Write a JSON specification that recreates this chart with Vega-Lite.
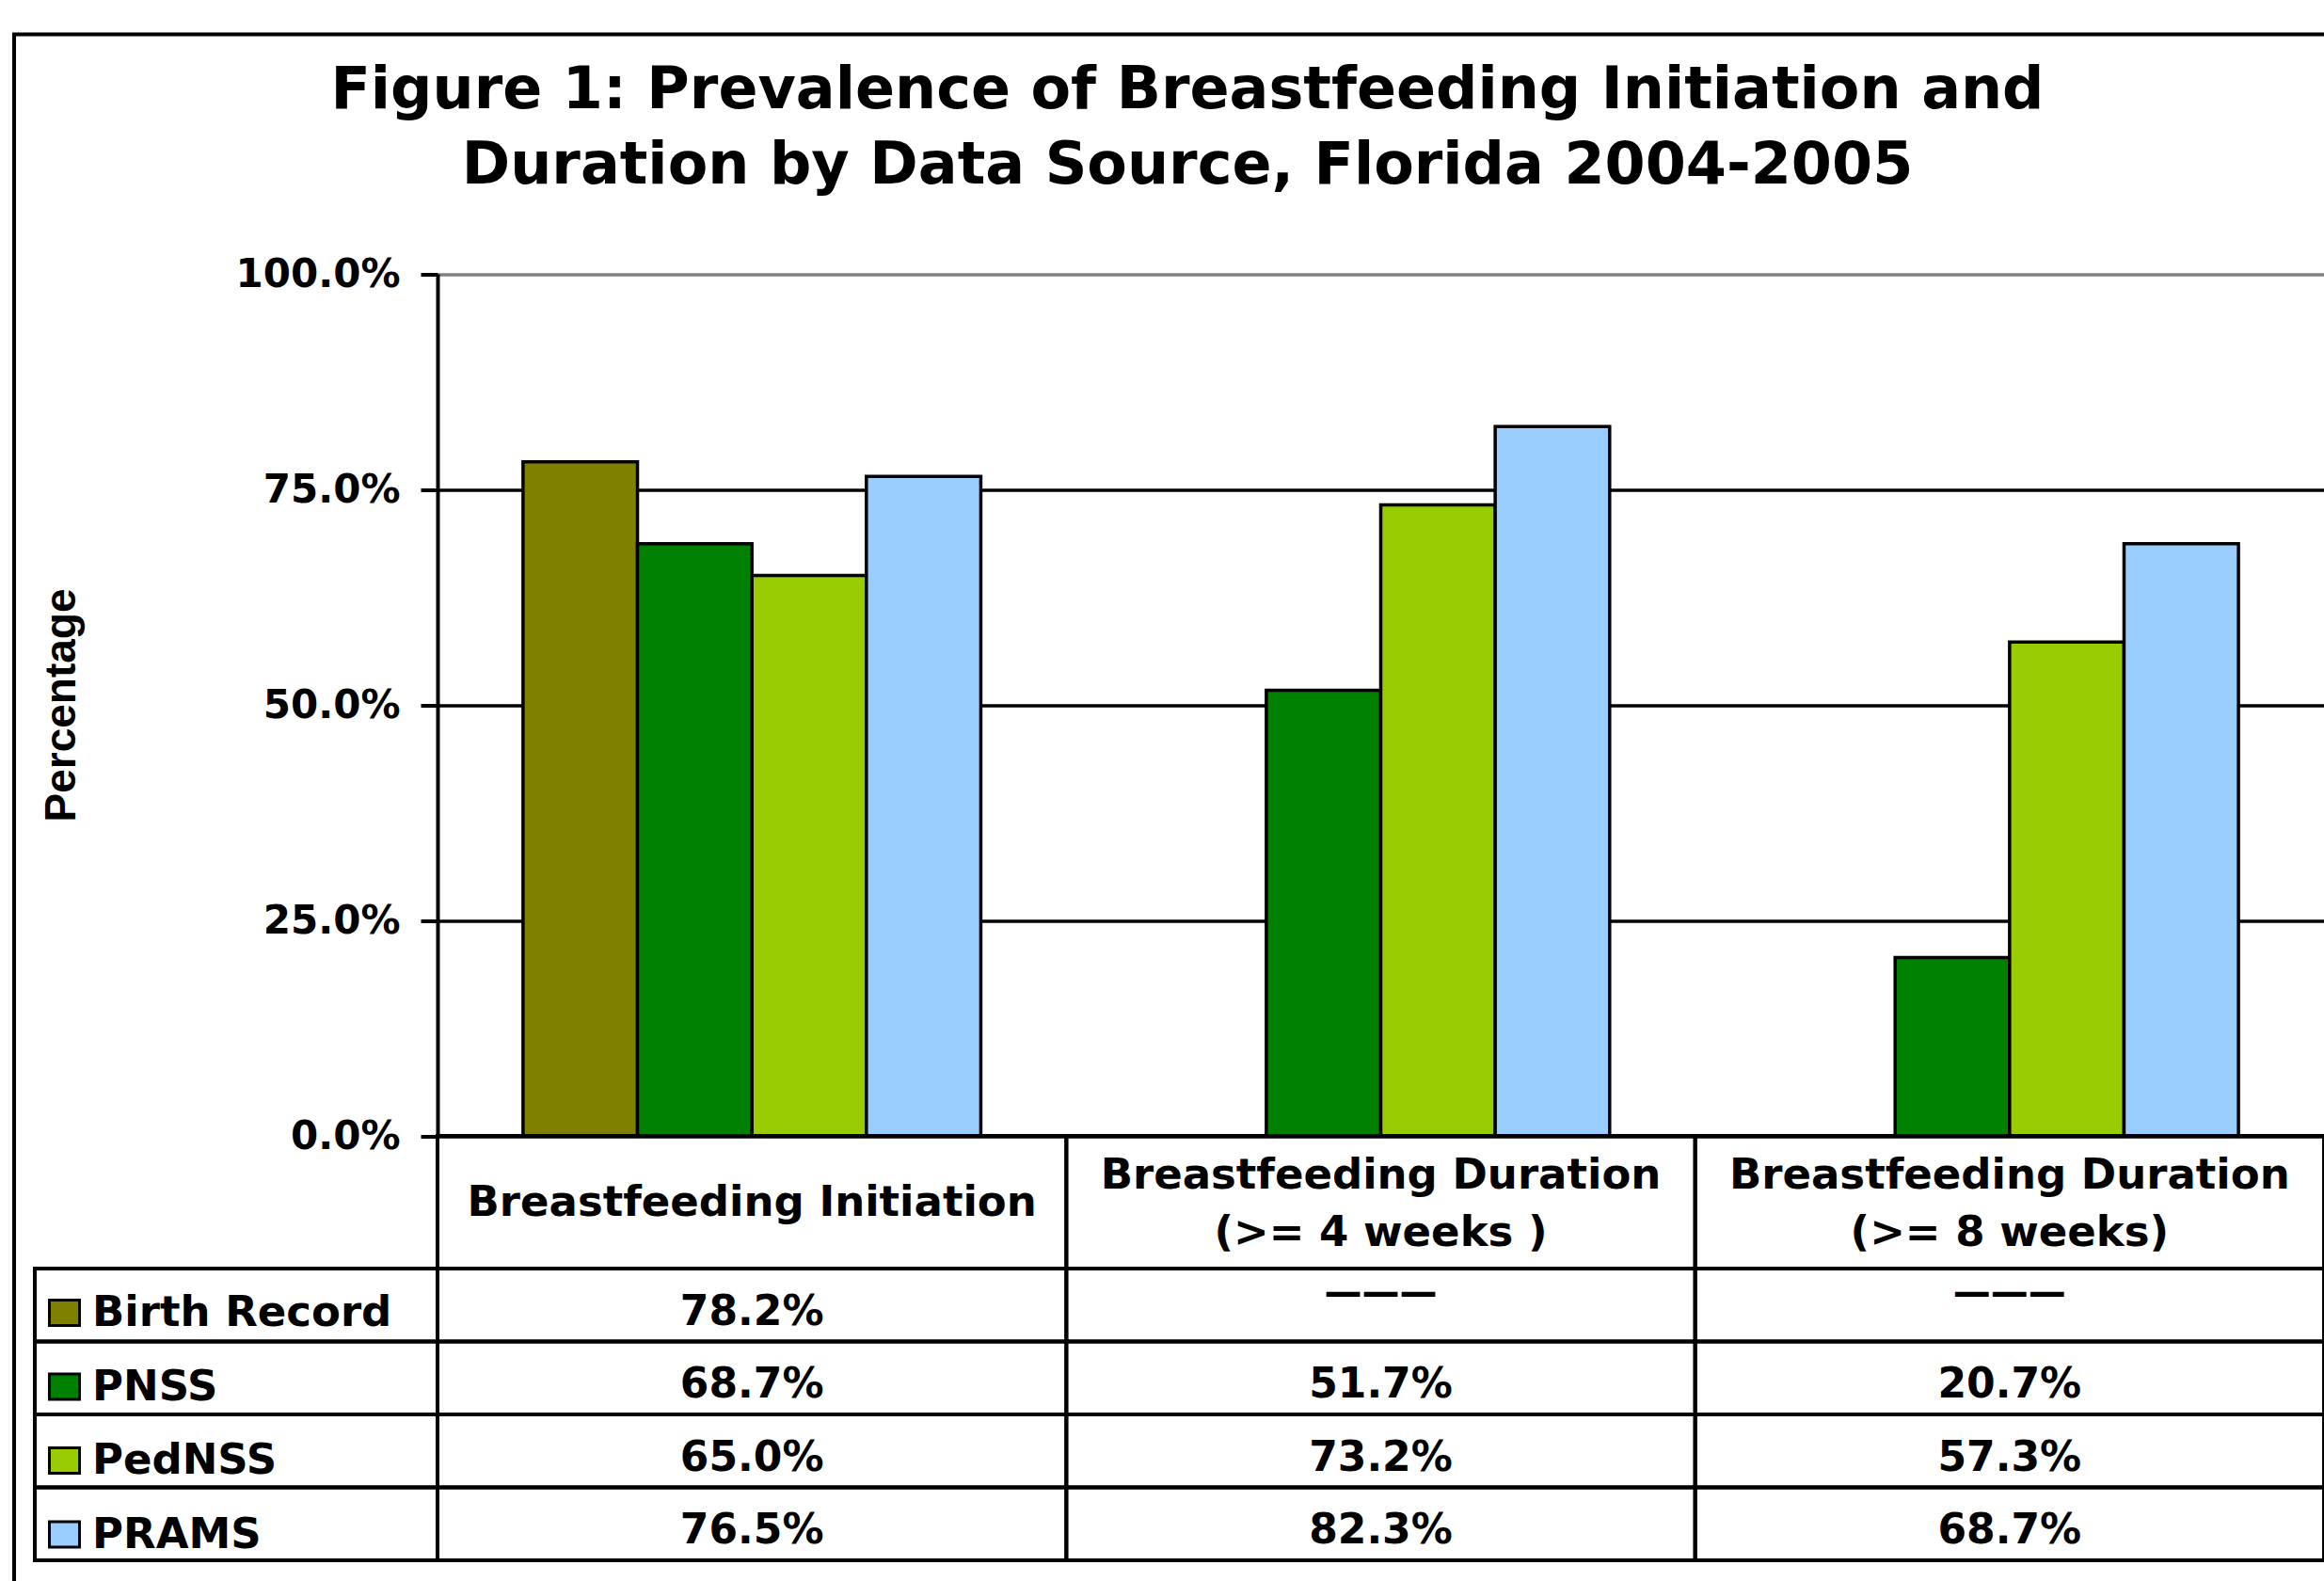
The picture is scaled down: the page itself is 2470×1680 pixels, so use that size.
{
  "$schema": "https://vega.github.io/schema/vega-lite/v6.json",
  "width": 2460,
  "height": 1650,
  "autosize": {"type": "none"},
  "padding": {"left": 15, "top": 36.5, "right": 0, "bottom": 0},
  "background": "white",
  "config": {
    "view": {"stroke": "black", "strokeWidth": 4},
    "font": "DejaVu Sans"
  },
  "title": {
    "text": ["Figure 1: Prevalence of Breastfeeding Initiation and", "Duration by Data Source, Florida 2004-2005"],
    "font": "DejaVu Sans",
    "fontSize": 62,
    "fontWeight": "bold",
    "color": "black",
    "lineHeight": 80,
    "anchor": "middle",
    "frame": "group",
    "baseline": "alphabetic",
    "dx": 17,
    "offset": -220
  },
  "datasets": {
    "main": [
      {"category": "Breastfeeding Initiation", "source": "Birth Record", "value": 0.782},
      {"category": "Breastfeeding Initiation", "source": "PNSS", "value": 0.687},
      {"category": "Breastfeeding Initiation", "source": "PedNSS", "value": 0.650},
      {"category": "Breastfeeding Initiation", "source": "PRAMS", "value": 0.765},
      {"category": "Breastfeeding Duration\n(>= 4 weeks )", "source": "Birth Record", "value": null},
      {"category": "Breastfeeding Duration\n(>= 4 weeks )", "source": "PNSS", "value": 0.517},
      {"category": "Breastfeeding Duration\n(>= 4 weeks )", "source": "PedNSS", "value": 0.732},
      {"category": "Breastfeeding Duration\n(>= 4 weeks )", "source": "PRAMS", "value": 0.823},
      {"category": "Breastfeeding Duration\n(>= 8 weeks)", "source": "Birth Record", "value": null},
      {"category": "Breastfeeding Duration\n(>= 8 weeks)", "source": "PNSS", "value": 0.207},
      {"category": "Breastfeeding Duration\n(>= 8 weeks)", "source": "PedNSS", "value": 0.573},
      {"category": "Breastfeeding Duration\n(>= 8 weeks)", "source": "PRAMS", "value": 0.687}
    ],
    "categories": [
      {"category": "Breastfeeding Initiation"},
      {"category": "Breastfeeding Duration\n(>= 4 weeks )"},
      {"category": "Breastfeeding Duration\n(>= 8 weeks)"}
    ],
    "sources": [
      {"source": "Birth Record"},
      {"source": "PNSS"},
      {"source": "PedNSS"},
      {"source": "PRAMS"}
    ]
  },
  "layer": [
    {
      "data": {"name": "main"},
      "mark": {"type": "bar", "stroke": "black", "strokeWidth": 3.5},
      "encoding": {
        "x": {
          "field": "category", "type": "nominal", "sort": null,
          "scale": {"range": [450, 2455], "paddingInner": 0.272, "paddingOuter": 0.136},
          "axis": null
        },
        "xOffset": {
          "field": "source", "type": "nominal",
          "scale": {"domain": ["Birth Record", "PNSS", "PedNSS", "PRAMS"], "paddingInner": 0, "paddingOuter": 0}
        },
        "y": {
          "field": "value", "type": "quantitative",
          "scale": {"domain": [0, 1], "range": [1170.5, 254.5], "nice": false, "zero": true},
          "axis": {
            "values": [0, 0.25, 0.5, 0.75, 1],
            "format": ".1%",
            "offset": -450,
            "domain": true, "domainColor": "black", "domainWidth": 4,
            "ticks": true, "tickSize": 18, "tickColor": "black", "tickWidth": 4,
            "labelFont": "DejaVu Sans", "labelFontWeight": "bold", "labelFontSize": 42, "labelColor": "black",
            "labelPadding": 22, "labelLimit": 400,
            "grid": true, "gridWidth": 3.5,
            "gridColor": {"condition": {"test": "datum.value === 1", "value": "#808080"}, "value": "black"},
            "title": "Percentage",
            "titleFont": "Liberation Sans", "titleFontWeight": "bold", "titleFontSize": 46, "titleColor": "black",
            "titlePadding": 176
          }
        },
        "color": {
          "field": "source", "type": "nominal",
          "scale": {"domain": ["Birth Record", "PNSS", "PedNSS", "PRAMS"], "range": ["#808000", "#008000", "#99CC00", "#99CCFF"]},
          "legend": {
            "title": null,
            "orient": "none",
            "legendX": 31,
            "legendY": 1336,
            "padding": 0,
            "rowPadding": 32.5,
            "symbolType": "M-1.185,-1L1.185,-1L1.185,1L-1.185,1Z",
            "symbolSize": 729,
            "symbolStrokeColor": "black",
            "symbolStrokeWidth": 3,
            "symbolOpacity": 1,
            "labelFont": "DejaVu Sans", "labelFontWeight": "bold", "labelFontSize": 45, "labelColor": "black",
            "labelOffset": 7,
            "labelLimit": 1000
          }
        }
      }
    },
    {
      "data": {"name": "categories"},
      "encoding": {
        "x": {
          "field": "category", "type": "nominal", "sort": null,
          "scale": {"range": [450, 2455], "paddingInner": 0, "paddingOuter": 0},
          "axis": null
        },
        "y": {
          "datum": "header", "type": "nominal",
          "scale": {"range": [1170.5, 1311.5], "paddingInner": 0, "paddingOuter": 0},
          "axis": null
        }
      },
      "layer": [
        {"mark": {"type": "rect", "filled": false, "stroke": "black", "strokeWidth": 4}},
        {
          "transform": [{"filter": "indexof(datum.category, '\\n') < 0"}],
          "mark": {"type": "text", "lineBreak": "\n", "lineHeight": 61, "font": "DejaVu Sans", "fontWeight": "bold", "fontSize": 45, "color": "black", "align": "center", "baseline": "middle"},
          "encoding": {"text": {"field": "category", "type": "nominal"}}
        },
        {
          "transform": [{"filter": "indexof(datum.category, '\\n') >= 0"}],
          "mark": {"type": "text", "lineBreak": "\n", "lineHeight": 61, "font": "DejaVu Sans", "fontWeight": "bold", "fontSize": 45, "color": "black", "align": "center", "baseline": "middle", "dy": -29},
          "encoding": {"text": {"field": "category", "type": "nominal"}}
        }
      ]
    },
    {
      "data": {"name": "main"},
      "encoding": {
        "x": {
          "field": "category", "type": "nominal", "sort": null,
          "scale": {"range": [450, 2455], "paddingInner": 0, "paddingOuter": 0},
          "axis": null
        },
        "y": {
          "field": "source", "type": "nominal",
          "scale": {"domain": ["Birth Record", "PNSS", "PedNSS", "PRAMS"], "range": [1311.5, 1621.5], "paddingInner": 0, "paddingOuter": 0},
          "axis": null
        }
      },
      "layer": [
        {"mark": {"type": "rect", "filled": false, "stroke": "black", "strokeWidth": 4}},
        {
          "transform": [{"filter": "datum.value != null"}],
          "mark": {"type": "text", "font": "DejaVu Sans", "fontWeight": "bold", "fontSize": 44, "color": "black", "align": "center", "baseline": "middle", "dy": 8},
          "encoding": {"text": {"field": "value", "type": "quantitative", "format": ".1%"}}
        },
        {
          "transform": [{"filter": "datum.value == null"}],
          "mark": {"type": "text", "font": "DejaVu Sans", "fontWeight": "bold", "fontSize": 40, "color": "black", "align": "center", "baseline": "middle", "dy": -12},
          "encoding": {"text": {"value": "———"}}
        }
      ]
    },
    {
      "data": {"name": "sources"},
      "mark": {"type": "rect", "filled": false, "stroke": "black", "strokeWidth": 4},
      "encoding": {
        "x": {
          "datum": "legend", "type": "nominal",
          "scale": {"range": [22, 450], "paddingInner": 0, "paddingOuter": 0},
          "axis": null
        },
        "y": {
          "field": "source", "type": "nominal",
          "scale": {"domain": ["Birth Record", "PNSS", "PedNSS", "PRAMS"], "range": [1311.5, 1621.5], "paddingInner": 0, "paddingOuter": 0},
          "axis": null
        }
      }
    }
  ],
  "resolve": {"scale": {"x": "independent", "y": "independent"}}
}
